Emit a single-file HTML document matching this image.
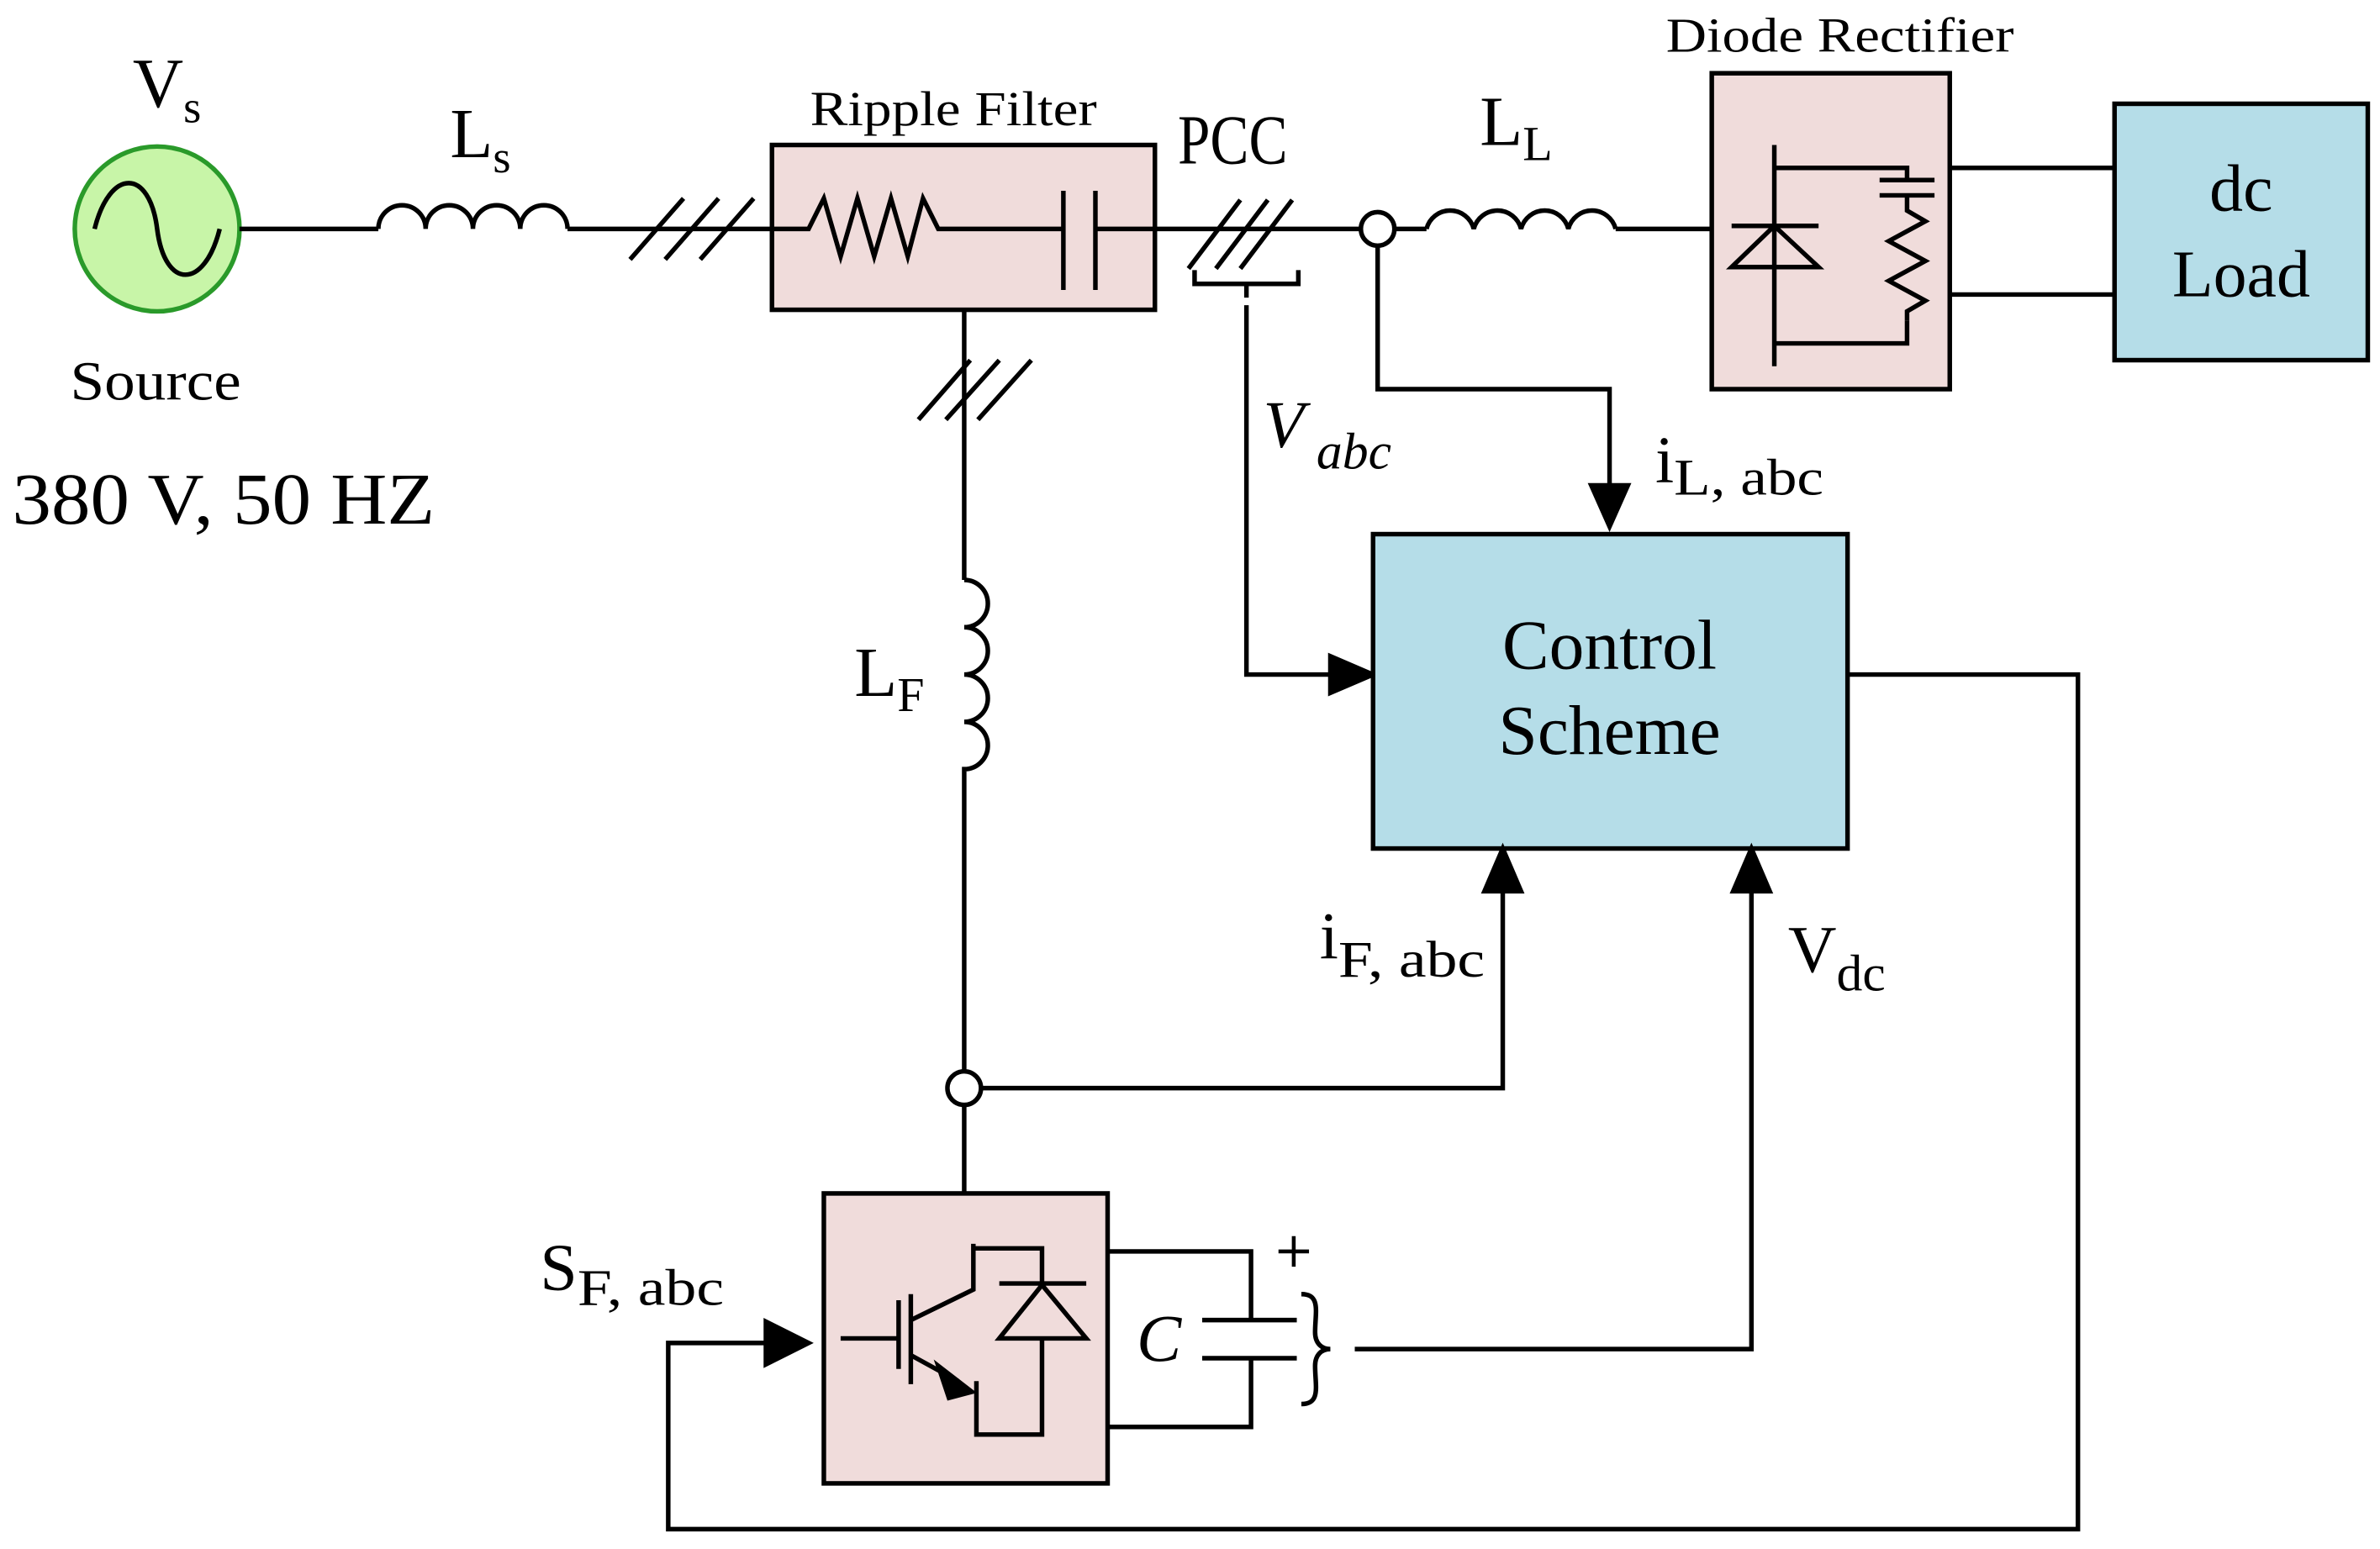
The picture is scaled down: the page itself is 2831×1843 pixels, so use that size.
<!DOCTYPE html>
<html><head><meta charset="utf-8"><style>html,body{margin:0;padding:0;background:#fff}svg{display:block}</style></head>
<body>
<svg width="2831" height="1843" viewBox="0 0 1560 1015" preserveAspectRatio="none" xmlns="http://www.w3.org/2000/svg" font-family="Liberation Serif, serif" fill="none" stroke="#000" stroke-width="3">
<!-- source -->
<circle cx="103" cy="150" r="54" fill="#c8f5a8" stroke="#2a9a2a" stroke-width="3"/>
<path d="M62 150 C72 110 98 110 103 150 C108 190 134 190 144 150" stroke="#000" stroke-width="3"/>
<line x1="157" y1="150" x2="248" y2="150"/>
<path d="M248 150 a15 15 0 0 1 31 0 a15 15 0 0 1 31 0 a15 15 0 0 1 31 0 a15 15 0 0 1 31 0"/>
<line x1="372" y1="150" x2="506" y2="150"/>
<path d="M413 170 L448 130 M436 170 L471 130 M459 170 L494 130"/>
<!-- ripple filter -->
<rect x="506" y="95" width="251" height="108" fill="#f0dcdb"/>
<path d="M506 150 H530 L540 130 L551 168 L562 130 L573 168 L584 130 L595 168 L605 130 L615 150 H697 M718 150 H757"/>
<path d="M697 125 V190 M718 125 V190"/>
<line x1="757" y1="150" x2="893" y2="150"/>
<path d="M779 176 L813 131 M797 176 L831 131 M813 176 L847 131"/>
<path d="M783 177 V186 H851 V177 M817 186 V195"/>
<circle cx="903" cy="150" r="11" fill="#fff"/>
<line x1="914" y1="150" x2="935" y2="150"/>
<path d="M935 150 a16 16 0 0 1 31 0 a16 16 0 0 1 31 0 a16 16 0 0 1 31 0 a16 16 0 0 1 31 0"/>
<line x1="1059" y1="150" x2="1122" y2="150"/>
<!-- diode rectifier -->
<rect x="1122" y="48" width="156" height="207" fill="#f0dcdb"/>
<path d="M1163 95 V240 M1163 110 H1250 V118 M1163 225 H1250 V210"/>
<path d="M1135 148 H1192 M1135 175 H1192 L1163 148 Z"/>
<path d="M1232 118 H1268 M1232 128 H1268 M1250 128 V138 L1262 145 L1238 158 L1262 171 L1238 184 L1262 197 L1250 204 V210"/>
<path d="M1278 110 H1386 M1278 193 H1386"/>
<rect x="1386" y="68" width="166" height="168" fill="#b5dde8"/>
<!-- connections -->
<path d="M903 161 V255 H1055 V322"/>
<path d="M1043 318 L1055 345 L1067 318 Z" fill="#000"/>
<path d="M817 200 V442 H876"/>
<path d="M872 430 L900 442 L872 454 Z" fill="#000"/>
<rect x="900" y="350" width="311" height="206" fill="#b5dde8"/>
<!-- vertical filter branch -->
<path d="M632 203 V380"/>
<path d="M602 275 L636 236 M620 275 L655 236 M641 275 L676 236"/>
<path d="M632 380 a15 15 0 0 1 0 31 a15 15 0 0 1 0 31 a15 15 0 0 1 0 31 a15 15 0 0 1 0 31 V702"/>
<circle cx="632" cy="713" r="11" fill="#fff"/>
<path d="M643 713 H985 V580"/>
<path d="M973 584 L985 556 L997 584 Z" fill="#000"/>
<path d="M632 724 V782"/>
<!-- inverter -->
<rect x="540" y="782" width="186" height="190" fill="#f0dcdb"/>
<path d="M551 877 H589 M589 852 V897 M597 848 V907 M597 865 L638 845 V815 M638 818 H683 V840 M683 877 V940 H640 V905 M597 888 L628 905"/>
<path d="M655 841 H712 M655 877 H712 L683 842 Z"/>
<path d="M615 895 L637 912 L622 916 Z" fill="#000"/>
<path d="M726 820 H820 V865 M726 935 H820 V890 M788 865 H850 M788 890 H850"/>
<path d="M838 820 H858 M848 810 V830" stroke-width="2.5"/>
<path d="M853 848 C866 848 862 860 862 873 C862 880 866 884 872 884 C866 884 862 888 862 895 C862 908 866 920 853 920" stroke-width="3"/>
<path d="M888 884 H1148 V580"/>
<path d="M1136 584 L1148 556 L1160 584 Z" fill="#000"/>
<path d="M1211 442 H1362 V1002 H438 V880 H505"/>
<path d="M502 866 L530 880 L502 894 Z" fill="#000"/>
<!-- text -->
<g fill="#000" stroke="none">
<text x="87" y="70" font-size="46">V<tspan font-size="30" dy="10">s</tspan></text>
<text x="295" y="103" font-size="46">L<tspan font-size="30" dy="10">s</tspan></text>
<text x="46" y="262" font-size="36" textLength="112" lengthAdjust="spacingAndGlyphs">Source</text>
<text x="8" y="343" font-size="48" textLength="277" lengthAdjust="spacingAndGlyphs">380 V, 50 HZ</text>
<text x="531" y="82" font-size="32" textLength="188" lengthAdjust="spacingAndGlyphs">Ripple Filter</text>
<text x="772" y="107" font-size="46" textLength="72" lengthAdjust="spacingAndGlyphs">PCC</text>
<text x="970" y="95" font-size="46">L<tspan font-size="32" dy="10">L</tspan></text>
<text x="1092" y="34" font-size="32" textLength="228" lengthAdjust="spacingAndGlyphs">Diode Rectifier</text>
<text x="1469" y="138" font-size="44" text-anchor="middle">dc</text>
<text x="1469" y="194" font-size="44" text-anchor="middle">Load</text>
<text x="828" y="293" font-size="44" font-style="italic">V<tspan font-size="34" dx="8" dy="14">abc</tspan></text>
<text x="1085" y="316" font-size="44">i<tspan font-size="34" dy="8" textLength="98" lengthAdjust="spacingAndGlyphs">L, abc</tspan></text>
<text x="1055" y="438" font-size="46" text-anchor="middle">Control</text>
<text x="1055" y="494" font-size="46" text-anchor="middle">Scheme</text>
<text x="560" y="456" font-size="46">L<tspan font-size="32" dy="10">F</tspan></text>
<text x="865" y="628" font-size="44">i<tspan font-size="34" dy="12" textLength="96" lengthAdjust="spacingAndGlyphs">F, abc</tspan></text>
<text x="1172" y="637" font-size="44">V<tspan font-size="34" dy="12">dc</tspan></text>
<text x="354" y="845" font-size="44">S<tspan font-size="34" dy="10" textLength="96" lengthAdjust="spacingAndGlyphs">F, abc</tspan></text>
<text x="745" y="892" font-size="44" font-style="italic">C</text>
</g>
</svg>
</body></html>
